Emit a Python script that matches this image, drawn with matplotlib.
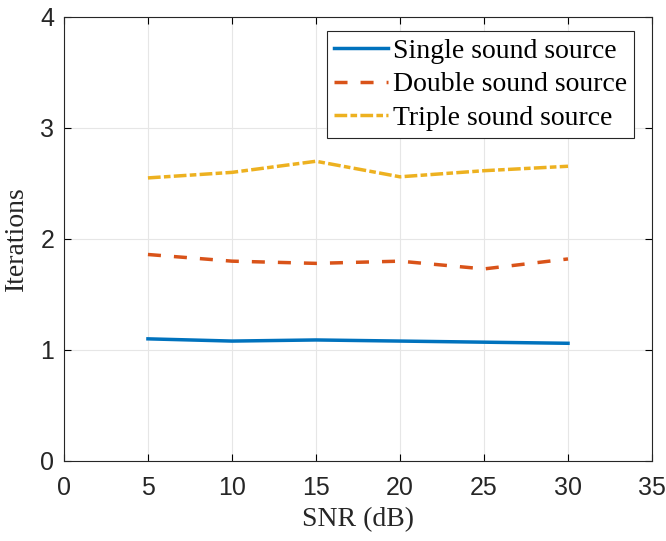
import matplotlib
matplotlib.use("Agg")
import matplotlib.pyplot as plt

snr = [5, 10, 15, 20, 25, 30]
single = [1.10, 1.08, 1.09, 1.08, 1.07, 1.06]
double = [1.86, 1.80, 1.78, 1.80, 1.73, 1.82]
triple = [2.55, 2.60, 2.70, 2.56, 2.615, 2.655]
labels = ["Single sound source", "Double sound source", "Triple sound source"]

tick_font = ["Liberation Sans", "DejaVu Sans"]
serif = ["Liberation Serif", "DejaVu Serif"]

fig = plt.figure(figsize=(6.66, 5.41), dpi=100)
ax = fig.add_axes([0.096, 0.148, 0.883, 0.8206])

ax.plot(snr, single, color="#0072BD", lw=2.5, ls="-", label=labels[0])
ax.plot(snr, double, color="#D95319", lw=2.5, ls=(0, (3.75, 3.75)), label=labels[1])
ax.plot(snr, triple, color="#EDB120", lw=2.5, ls=(0, (3.66, 0.95, 1.9, 0.95)), label=labels[2])

ax.set_xlim(0, 35)
ax.set_ylim(0, 4)
ax.set_xticks(range(0, 36, 5))
ax.set_yticks(range(0, 5))
ax.grid(True, color="#e6e6e6", lw=0.8)
ax.set_axisbelow(True)
ax.tick_params(direction="in", top=True, right=True, length=5, width=0.8)
ax.tick_params(axis="x", pad=11)
ax.tick_params(axis="y", pad=7)
for t in ax.get_xticklabels() + ax.get_yticklabels():
    t.set_fontfamily(tick_font)
    t.set_fontsize(18)
    t.set_color("#262626")
for s in ax.spines.values():
    s.set_color("#262626")
    s.set_linewidth(0.8)

ax.set_xlabel("SNR (dB)", family=serif, fontsize=20, color="#262626", labelpad=5)
ax.set_ylabel("Iterations", family=serif, fontsize=20, color="#262626", labelpad=8)

leg = ax.legend(loc="upper right", bbox_to_anchor=(0.97, 0.968), prop={"family": serif, "size": 20},
                fancybox=False, edgecolor="#262626", framealpha=1, handlelength=1.95,
                handletextpad=0.2, borderpad=0.25, labelspacing=0.3, borderaxespad=0)
leg.get_frame().set_linewidth(0.8)

fig.savefig("out.png", dpi=100)
